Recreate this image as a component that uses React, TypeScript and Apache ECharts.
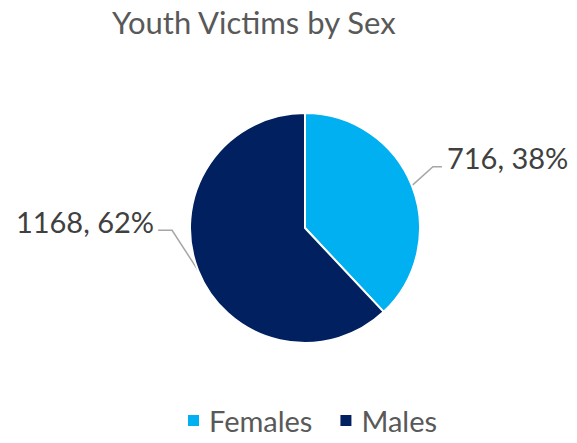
import React, { useEffect, useRef } from "react";
import * as echarts from "echarts";

const titleText = "Youth Victims by Sex";
const categories = ["Females", "Males"];
const values = [716, 1168];
const colors = ["#00B0F0", "#002060"];

// leader-line elbow offsets (from slice edge anchor) and horizontal segment length
const elbowOffsets = [
  [21, -19],
  [-26, -40],
];
const horizLen = [9, 14];

export default function App() {
  const ref = useRef<HTMLDivElement>(null);
  useEffect(() => {
    document.body.style.margin = "0";
    const chart = echarts.init(ref.current!, null, { renderer: "svg" });
    const total = values.reduce((a, b) => a + b, 0);
    chart.setOption({
      animation: false,
      backgroundColor: "#ffffff",
      title: {
        text: titleText,
        left: 107,
        top: 1,
        textStyle: {
          fontFamily: "Lato",
          fontSize: 31,
          fontWeight: "normal",
          color: "#595959",
        },
      },
      legend: {
        data: categories,
        top: 401,
        left: 181,
        itemWidth: 13,
        itemHeight: 13,
        itemGap: 26,
        icon: "rect",
        textStyle: { fontFamily: "Lato", fontSize: 29, color: "#595959", padding: [0, 0, 0, 4] },
      },
      series: [
        {
          type: "pie",
          center: [305, 228],
          radius: 115,
          startAngle: 90,
          clockwise: true,
          data: categories.map((c, i) => ({
            name: c,
            value: values[i],
            itemStyle: { color: colors[i] },
          })),
          itemStyle: { borderColor: "#ffffff", borderWidth: 2 },
          label: {
            show: true,
            position: "outside",
            formatter: (p: any) => `${p.value}, ${Math.round((p.value / total) * 100)}%`,
            fontFamily: "Lato",
            fontSize: 29,
            color: "#404040",
          },
          labelLine: {
            show: true,
            length: 20,
            length2: 10,
            lineStyle: { color: "#A6A6A6", width: 1.5 },
          },
          labelLayout: (params: any) => {
            const pts = params.labelLinePoints;
            if (!pts) return {};
            const i = params.dataIndex;
            const a = pts[0];
            const e = [a[0] + elbowOffsets[i][0], a[1] + elbowOffsets[i][1]];
            const right = e[0] > a[0];
            const end = [e[0] + (right ? horizLen[i] : -horizLen[i]), e[1]];
            return {
              x: end[0] + (right ? 5 : -4),
              y: end[1] - 9,
              align: right ? "left" : "right",
              verticalAlign: "middle",
              labelLinePoints: [a, e, end],
            };
          },
          emphasis: { disabled: true },
        },
      ],
    });
    return () => chart.dispose();
  }, []);
  return <div ref={ref} style={{ width: 577, height: 443 }} />;
}
